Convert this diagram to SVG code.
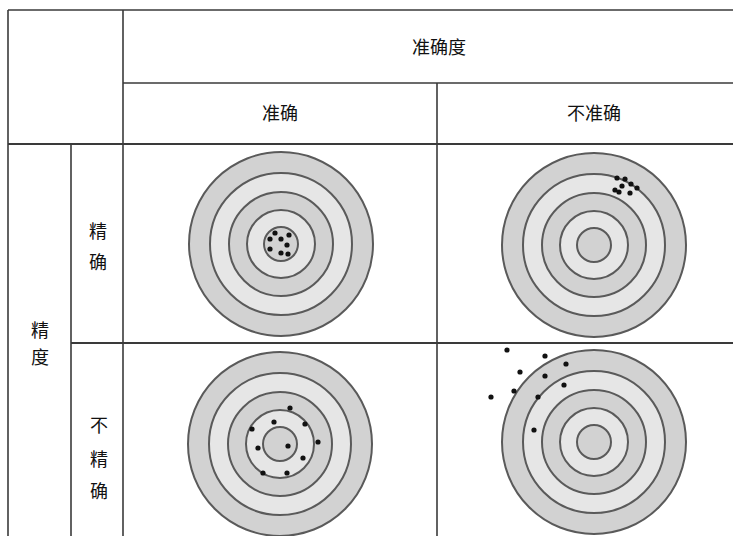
<svg xmlns="http://www.w3.org/2000/svg" width="733" height="536" viewBox="0 0 733 536">
  <style>
    .grid { stroke: #3a3a3a; stroke-width: 1.6; fill: none; }
    .lbl { font-family: "Noto Sans CJK SC", "Noto Sans", sans-serif; font-size: 18px; fill: #111; text-anchor: middle; }
    .ring { stroke: #5a5a5a; stroke-width: 2; }
    .dk { fill: #d2d2d2; }
    .lt { fill: #e6e6e6; }
    .dot circle { fill: #111; r: 2.6px; }
  </style>
  <defs>
    <!-- concentric target, centered at origin -->
    <g id="target">
      <circle class="ring dk" r="92"/>
      <circle class="ring lt" r="71"/>
      <circle class="ring dk" r="52"/>
      <circle class="ring lt" r="34"/>
      <circle class="ring dk" r="17"/>
    </g>
  </defs>
  <rect width="733" height="536" fill="#fff"/>

  <!-- table grid -->
  <g id="grid" class="grid">
    <line x1="8" y1="10" x2="733" y2="10"/>
    <line x1="8" y1="10" x2="8" y2="536"/>
    <line x1="123" y1="10" x2="123" y2="536"/>
    <line x1="123" y1="83" x2="733" y2="83"/>
    <line x1="437" y1="83" x2="437" y2="536"/>
    <line x1="8" y1="144" x2="733" y2="144" stroke-width="2"/>
    <line x1="71" y1="144" x2="71" y2="536"/>
    <line x1="71" y1="343" x2="733" y2="343" stroke-width="2"/>
  </g>

  <!-- header labels -->
  <g id="header-accuracy"><text class="lbl" x="439" y="54">准确度</text></g>
  <g id="header-accurate"><text class="lbl" x="280" y="120">准确</text></g>
  <g id="header-inaccurate"><text class="lbl" x="594" y="120">不准确</text></g>
  <g id="header-precision">
    <text class="lbl" x="40" y="337">精</text>
    <text class="lbl" x="40" y="364">度</text>
  </g>
  <g id="row-precise">
    <text class="lbl" x="98" y="238">精</text>
    <text class="lbl" x="98" y="269">确</text>
  </g>
  <g id="row-imprecise">
    <text class="lbl" x="99" y="432">不</text>
    <text class="lbl" x="99" y="466">精</text>
    <text class="lbl" x="99" y="498">确</text>
  </g>

  <!-- precise and accurate -->
  <g id="target-precise-accurate">
    <use href="#target" x="281" y="244"/>
    <g class="dot">
      <circle cx="275" cy="233" r="2.6"/>
      <circle cx="281" cy="239" r="2.6"/>
      <circle cx="289" cy="235" r="2.6"/>
      <circle cx="270" cy="239" r="2.6"/>
      <circle cx="287" cy="245" r="2.6"/>
      <circle cx="270" cy="249" r="2.6"/>
      <circle cx="281" cy="253" r="2.6"/>
      <circle cx="288" cy="254" r="2.6"/>
    </g>
  </g>

  <!-- precise but inaccurate -->
  <g id="target-precise-inaccurate">
    <use href="#target" x="594" y="245"/>
    <g class="dot">
      <circle cx="617" cy="178" r="2.6"/>
      <circle cx="625" cy="179" r="2.6"/>
      <circle cx="631" cy="184" r="2.6"/>
      <circle cx="637" cy="188" r="2.6"/>
      <circle cx="622" cy="186" r="2.6"/>
      <circle cx="615" cy="190" r="2.6"/>
      <circle cx="619" cy="192" r="2.6"/>
      <circle cx="630" cy="193" r="2.6"/>
    </g>
  </g>

  <!-- imprecise but accurate -->
  <g id="target-imprecise-accurate">
    <use href="#target" x="280" y="444"/>
    <g class="dot">
      <circle cx="290" cy="408" r="2.6"/>
      <circle cx="274" cy="422" r="2.6"/>
      <circle cx="305" cy="424" r="2.6"/>
      <circle cx="252" cy="429" r="2.6"/>
      <circle cx="318" cy="442" r="2.6"/>
      <circle cx="288" cy="446" r="2.6"/>
      <circle cx="258" cy="448" r="2.6"/>
      <circle cx="303" cy="458" r="2.6"/>
      <circle cx="263" cy="473" r="2.6"/>
      <circle cx="287" cy="473" r="2.6"/>
    </g>
  </g>

  <!-- imprecise and inaccurate -->
  <g id="target-imprecise-inaccurate">
    <use href="#target" x="594" y="442"/>
    <g class="dot">
      <circle cx="507" cy="350" r="2.6"/>
      <circle cx="545" cy="356" r="2.6"/>
      <circle cx="566" cy="364" r="2.6"/>
      <circle cx="520" cy="372" r="2.6"/>
      <circle cx="545" cy="376" r="2.6"/>
      <circle cx="564" cy="385" r="2.6"/>
      <circle cx="514" cy="391" r="2.6"/>
      <circle cx="538" cy="397" r="2.6"/>
      <circle cx="491" cy="397" r="2.6"/>
      <circle cx="534" cy="430" r="2.6"/>
    </g>
  </g>
</svg>
